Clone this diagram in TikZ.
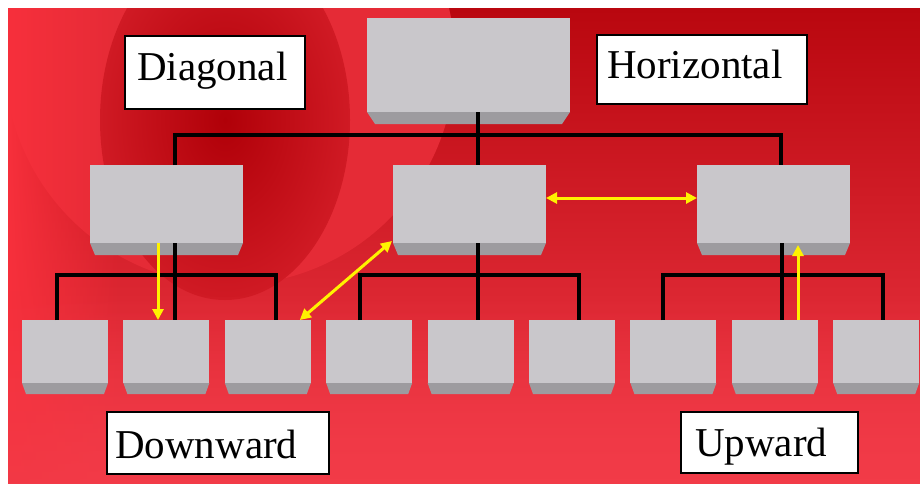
\documentclass[tikz,border=0pt]{standalone}
\usepackage{fontspec}
\setmainfont{Liberation Serif}
\usetikzlibrary{arrows.meta,fadings}
\definecolor{facec}{HTML}{C9C7CB}
\definecolor{bevelc}{HTML}{9D9B9F}
\definecolor{bgtop}{HTML}{B9070F}
\definecolor{bgbot}{HTML}{F23B48}
\definecolor{bglight}{HTML}{E52B36}
\definecolor{bgdark}{HTML}{B00008}
\definecolor{bgdarkedge}{HTML}{D01A24}
\definecolor{bgbright}{HTML}{F7303C}
\definecolor{arrowy}{HTML}{FFF200}
\newcommand\mybevel[3]{\fill[bevelc] (#1.south west) -- (#1.south east) -- ([xshift=-#3pt,yshift=-#2pt]#1.south east) -- ([xshift=#3pt,yshift=-#2pt]#1.south west) -- cycle;}
\begin{document}
\begin{tikzpicture}[x=1pt,y=-1pt,
  facebox/.style={fill=facec, draw=none, inner sep=0pt, outer sep=0pt, anchor=north west},
  bigbox/.style={facebox, minimum width=203, minimum height=94},
  midbox/.style={facebox, minimum width=153, minimum height=78},
  lowbox/.style={facebox, minimum width=86, minimum height=63},
  lblbox/.style={fill=white, draw=black, line width=1.8pt, inner sep=0pt, outer sep=0pt, anchor=north west},
  lbltext/.style={anchor=base west, inner sep=0pt, font=\fontsize{41}{48}\selectfont},
  conn/.style={draw=black, line width=3.6pt},
  yarrow/.style={draw=arrowy, line width=3pt, arrows={-Triangle[length=11pt,width=11pt]}},
  ydouble/.style={draw=arrowy, line width=3pt, arrows={Triangle[length=11pt,width=11pt]-Triangle[length=11pt,width=11pt]}}
]
\useasboundingbox (0,0) rectangle (920,483);
\fill[white] (0,0) rectangle (920,483);
% background
\begin{scope}
\clip (8,8) rectangle (920,483);
\shade[top color=bgtop, bottom color=bgbot] (8,8) rectangle (920,483);
\fill[bglight] (230,60) circle (225);
\fill[bgbright, path fading=east] (8,8) rectangle (120,483);
\shade[inner color=bgdark, outer color=bgdarkedge] (225,120) ellipse [x radius=125, y radius=180];
\fill[bgbot, path fading=north, opacity=0.8] (8,290) rectangle (920,483);
\end{scope}
% top box
\node[bigbox] (t) at (367,18) {};
\mybevel{t}{12}{8}
% middle boxes
\node[midbox] (m1) at (90,165) {};
\node[midbox] (m2) at (393,165) {};
\node[midbox] (m3) at (697,165) {};
\mybevel{m1}{12}{5}
\mybevel{m2}{12}{5}
\mybevel{m3}{12}{5}
% bottom boxes
\foreach \i/\x in {1/22,2/123.4,3/224.8,4/326.2,5/427.6,6/529,7/630.4,8/731.8,9/833.2}{
  \node[lowbox] (b\i) at (\x,320) {};
  \mybevel{b\i}{11}{4}
}
% connector junctions
\coordinate (xa) at (175,135);
\coordinate (xb) at (478,135);
\coordinate (xc) at (781,135);
\coordinate (la) at (57,275);
\coordinate (lb) at (175,275);
\coordinate (lc) at (276,275);
\coordinate (ma) at (360,275);
\coordinate (mb) at (478,275);
\coordinate (mc) at (579,275);
\coordinate (ra) at (663,275);
\coordinate (rb) at (782,275);
\coordinate (rc) at (883,275);
% connectors
\draw[conn] (t.south -| xb) -- (m2.north -| xb);
\draw[conn] (m1.north -| xa) -- (xa) -- (xc) -- (m3.north -| xc);
\draw[conn] (m1.south -| lb) -- (b2.north -| lb);
\draw[conn] (b1.north -| la) -- (la) -- (lc) -- (b3.north -| lc);
\draw[conn] (m2.south -| mb) -- (b5.north -| mb);
\draw[conn] (b4.north -| ma) -- (ma) -- (mc) -- (b6.north -| mc);
\draw[conn] (m3.south -| rb) -- (b8.north -| rb);
\draw[conn] (b7.north -| ra) -- (ra) -- (rc) -- (b9.north -| rc);
% yellow arrows
\coordinate (yd) at (158,0);
\coordinate (yu) at (798,0);
\draw[yarrow] (m1.south -| yd) -- (b2.north -| yd);
\draw[yarrow] (b8.north -| yu) -- ([yshift=-2pt]m3.south -| yu);
\draw[ydouble] ([xshift=-11pt]b3.north east) -- ([xshift=-1pt,yshift=2pt]m2.south west);
\draw[ydouble] ([yshift=6pt]m2.east) -- ([yshift=6pt]m3.west);
% labels
\node[lblbox, minimum width=180, minimum height=73] (ldiag) at (125,36) {};
\node[lbltext] (tdiag) at (137,80) {Diagonal};
\node[lblbox, minimum width=210, minimum height=69] (lhor) at (597,35) {};
\node[lbltext] (thor) at (607,78) {Horizontal};
\node[lblbox, minimum width=222, minimum height=62] (ldown) at (107,412) {};
\node[lbltext] (tdown) at (115,458) {Downward};
\node[lblbox, minimum width=177, minimum height=61] (lup) at (681,412) {};
\node[lbltext] (tup) at (695,456) {Upward};
\end{tikzpicture}
\end{document}
